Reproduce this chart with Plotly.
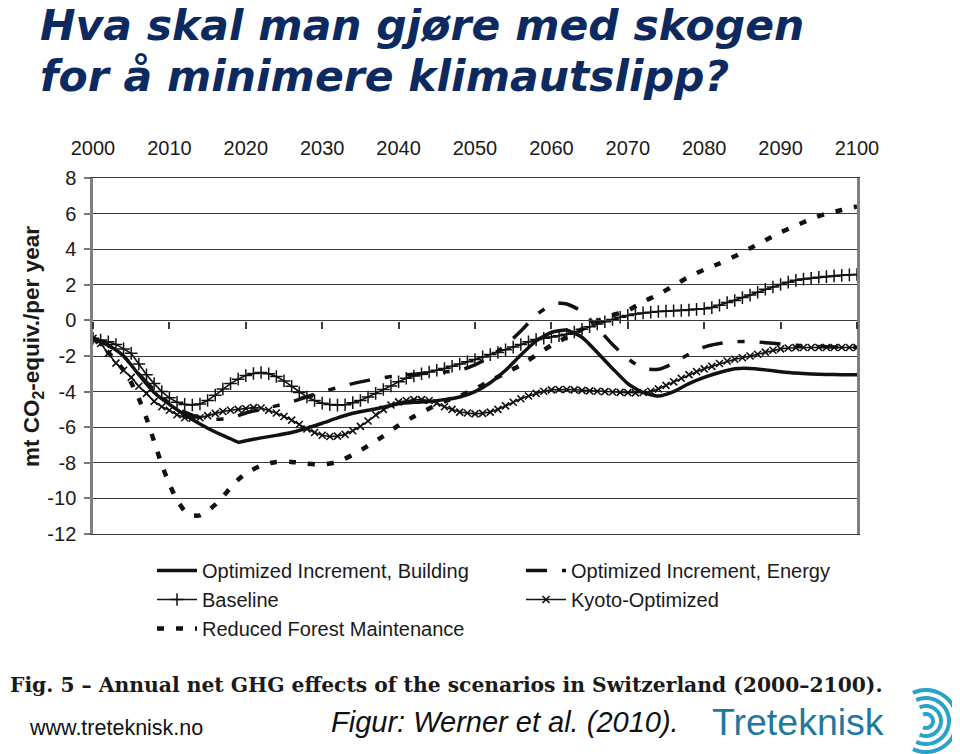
import plotly.graph_objects as go
import numpy as np

# ---------------- data ----------------
years = list(range(2000, 2101))

baseline = [-1.0, -1.1, -1.2, -1.35, -1.6, -1.85, -2.45, -3.05, -3.55, -4.0,
            -4.35, -4.6, -4.72, -4.75, -4.7, -4.5, -4.2, -3.85, -3.55, -3.3,
            -3.1, -2.98, -2.93, -3.0, -3.15, -3.4, -3.7, -4.05, -4.3, -4.5,
            -4.65, -4.73, -4.76, -4.74, -4.62, -4.5, -4.3, -4.1, -3.88, -3.68,
            -3.45, -3.25, -3.12, -3.0, -2.9, -2.8, -2.7, -2.58, -2.45, -2.33,
            -2.2, -2.05, -1.92, -1.8, -1.65, -1.5, -1.35, -1.2, -1.08, -1.0,
            -0.93, -0.86, -0.78, -0.65, -0.5, -0.35, -0.2, -0.08, 0.05, 0.18,
            0.28, 0.36, 0.42, 0.46, 0.5, 0.52, 0.54, 0.56, 0.58, 0.62,
            0.66, 0.72, 0.85, 1.0, 1.12, 1.28, 1.42, 1.58, 1.75, 1.88,
            2.02, 2.15, 2.25, 2.32, 2.37, 2.42, 2.46, 2.5, 2.53, 2.56, 2.58]

kyoto = [-1.0, -1.3, -1.85, -2.4, -2.8, -3.2, -3.7, -4.1, -4.55, -4.85,
         -5.05, -5.3, -5.47, -5.5, -5.47, -5.35, -5.22, -5.12, -5.05, -5.0,
         -4.95, -4.9, -4.92, -5.05, -5.2, -5.4, -5.6, -5.85, -6.1, -6.3,
         -6.45, -6.52, -6.5, -6.4, -6.2, -5.95, -5.65, -5.3, -5.0, -4.75,
         -4.58, -4.5, -4.45, -4.45, -4.5, -4.65, -4.85, -5.0, -5.15, -5.2,
         -5.25, -5.22, -5.15, -5.0, -4.8, -4.6, -4.4, -4.25, -4.1, -3.98,
         -3.9, -3.88, -3.88, -3.9, -3.93, -3.96, -3.98, -4.0, -4.02, -4.04,
         -4.06, -4.07, -4.05, -3.98, -3.85, -3.65, -3.45, -3.25, -3.05, -2.88,
         -2.72, -2.58, -2.42, -2.28, -2.18, -2.1, -2.0, -1.9, -1.78, -1.68,
         -1.6, -1.55, -1.53, -1.52, -1.52, -1.52, -1.52, -1.52, -1.52, -1.52, -1.52]

building_years = [2000, 2002, 2004, 2006, 2008, 2010, 2012, 2014, 2016, 2018, 2019,
                  2020, 2022, 2024, 2026, 2028, 2030, 2032, 2034, 2036, 2038,
                  2040, 2042, 2044, 2046, 2048, 2050, 2052, 2054, 2056, 2058,
                  2060, 2062, 2064, 2066, 2068, 2070, 2072, 2074, 2076, 2078,
                  2080, 2082, 2084, 2086, 2088, 2090, 2092, 2094, 2096, 2098, 2100]
building = [-1.0, -1.4, -2.0, -3.05, -4.05, -4.72, -5.3, -5.82, -6.27, -6.65, -6.84,
            -6.76, -6.6, -6.46, -6.3, -6.05, -5.78, -5.48, -5.22, -5.05, -4.88,
            -4.68, -4.6, -4.55, -4.45, -4.3, -4.0, -3.5, -2.8, -1.95, -1.15,
            -0.68, -0.55, -0.95, -1.8, -2.7, -3.55, -4.05, -4.25, -4.0, -3.55,
            -3.2, -2.93, -2.72, -2.7, -2.78, -2.88, -2.96, -3.01, -3.04, -3.05, -3.05]

energy_years = [2000, 2002, 2004, 2006, 2008, 2010, 2012, 2014, 2016, 2018,
                2020, 2022, 2024, 2026, 2028, 2030, 2032, 2034, 2036, 2038,
                2040, 2042, 2044, 2046, 2048, 2050, 2052, 2054, 2056, 2058,
                2060, 2061, 2062, 2064, 2066, 2068, 2070, 2072, 2074, 2076, 2078,
                2080, 2082, 2084, 2086, 2088, 2090, 2092, 2094, 2096, 2098, 2100]
energy = [-1.0, -1.4, -2.0, -3.0, -3.9, -4.65, -5.15, -5.45, -5.55, -5.5,
          -5.2, -5.0, -4.8, -4.58, -4.3, -4.0, -3.78, -3.55, -3.37, -3.22,
          -3.1, -3.02, -2.96, -2.9, -2.8, -2.5, -2.0, -1.4, -0.6, 0.3,
          0.88, 0.96, 0.92, 0.5, -0.4, -1.35, -2.15, -2.7, -2.75, -2.4, -1.9,
          -1.5, -1.3, -1.2, -1.18, -1.25, -1.33, -1.4, -1.45, -1.48, -1.5, -1.52]

reduced_years = [2000, 2002, 2004, 2005, 2006, 2007, 2008, 2009, 2010, 2011, 2012,
                 2013, 2014, 2015, 2016, 2017, 2018, 2019, 2020, 2022, 2024,
                 2026, 2028, 2030, 2032, 2034, 2036, 2038, 2040, 2042, 2044,
                 2046, 2048, 2050, 2052, 2054, 2056, 2058, 2060, 2062, 2064,
                 2066, 2068, 2070, 2072, 2074, 2076, 2078, 2080, 2082, 2084,
                 2086, 2088, 2090, 2092, 2094, 2096, 2098, 2100]
reduced = [-1.0, -1.8, -2.8, -3.5, -4.4, -5.5, -6.8, -8.1, -9.2, -10.1, -10.7,
           -10.95, -10.95, -10.7, -10.35, -9.9, -9.4, -8.95, -8.6, -8.15, -7.95,
           -7.95, -8.05, -8.1, -7.95, -7.55, -7.05, -6.5, -5.9, -5.4, -4.95,
           -4.55, -4.25, -3.85, -3.4, -2.95, -2.5, -1.95, -1.4, -0.95, -0.5,
           -0.05, 0.3, 0.55, 1.05, 1.45, 1.95, 2.45, 2.85, 3.2, 3.6,
           4.05, 4.5, 4.95, 5.32, 5.7, 6.0, 6.2, 6.4]

x_ticks = list(range(2000, 2101, 10))
y_ticks = list(range(-12, 9, 2))
y_ticktext = [str(v) for v in y_ticks]   # plain hyphen minus, as in the source

names = ["Optimized Increment, Building", "Optimized Increment, Energy",
         "Baseline", "Kyoto-Optimized", "Reduced Forest Maintenance"]

# ---------------- layout geometry (page pixels) ----------------
OFF = 8                      # default body margin of the html page
W, H = 960 - OFF, 754 - OFF  # figure size so the page is exactly 960x754
L, R, T, B = 93, 857, 178, 534   # plot area edges in page pixels


def xp(px):
    return (px - L) / (R - L)


def yp(py):
    return (B - py) / (B - T)


BLACK = "#111111"
fig = go.Figure()

fig.add_trace(go.Scatter(x=building_years, y=building, name=names[0], mode="lines",
                         line=dict(color=BLACK, width=3.5, shape="spline", smoothing=0.6)))
fig.add_trace(go.Scatter(x=energy_years, y=energy, name=names[1], mode="lines",
                         line=dict(color=BLACK, width=3.5, shape="spline", smoothing=0.6,
                                   dash="21px,15px,7px,15px")))
fig.add_trace(go.Scatter(x=years, y=baseline, name=names[2], mode="lines+markers",
                         line=dict(color=BLACK, width=1.6),
                         marker=dict(symbol="cross-thin", size=9,
                                     line=dict(color=BLACK, width=1.5))))
fig.add_trace(go.Scatter(x=years, y=kyoto, name=names[3], mode="lines+markers",
                         line=dict(color=BLACK, width=1.6),
                         marker=dict(symbol="x-thin", size=7,
                                     line=dict(color=BLACK, width=1.6))))
fig.add_trace(go.Scatter(x=reduced_years, y=reduced, name=names[4], mode="lines",
                         line=dict(color=BLACK, width=4.5, shape="spline", smoothing=0.6,
                                   dash="7px,12px")))
# helper trace so the x-axis drawn along y = 0 exists
fig.add_trace(go.Scatter(x=[2000], y=[None], xaxis="x2", yaxis="y", showlegend=False,
                         hoverinfo="skip", mode="lines"))

axis_font = dict(family="Liberation Sans, Arial, sans-serif", size=20, color="#1a1a1a")

fig.update_layout(
    width=W, height=H,
    margin=dict(l=L - OFF, r=960 - R, t=T - OFF, b=754 - B, pad=0),
    paper_bgcolor="white", plot_bgcolor="white",
    font=dict(family="Liberation Sans, Arial, sans-serif", color="#1a1a1a"),
    xaxis=dict(range=[2000, 2100], side="top", tickvals=x_ticks, ticks="",
               showgrid=False, zeroline=False, showline=True, mirror=True,
               linecolor="#3a3a3a", linewidth=1.2, tickfont=axis_font,
               ticklabelstandoff=14),
    xaxis2=dict(range=[2000, 2100], overlaying="x", anchor="free",
                position=(0 - (-12)) / 20, side="bottom",
                tickvals=x_ticks, ticks="outside", ticklen=7, tickwidth=1.5,
                tickcolor="#3a3a3a", showticklabels=False, showgrid=False,
                zeroline=False, showline=True, linecolor="#3a3a3a", linewidth=1.2),
    yaxis=dict(range=[-12, 8], tickvals=y_ticks, ticktext=y_ticktext,
               ticks="outside", ticklen=6, tickwidth=1.5, tickcolor="#777777",
               showgrid=True, gridcolor="#3a3a3a", gridwidth=1.2, zeroline=False,
               showline=True, mirror=True, linecolor="#808080", linewidth=2.5,
               tickfont=axis_font, ticklabelstandoff=4),
    legend=dict(orientation="h", x=xp(152), y=yp(551), xanchor="left", yanchor="top",
                font=dict(family="Liberation Sans, Arial, sans-serif", size=20,
                          color="#1a1a1a"),
                entrywidth=314, entrywidthmode="pixels", itemwidth=40,
                traceorder="normal", bgcolor="rgba(0,0,0,0)"),
    showlegend=True,
)

ann = []
# y-axis title
ann.append(dict(text="mt CO<sub>2</sub>-equiv./per year", x=xp(33), y=yp(347),
                xref="paper", yref="paper", showarrow=False, textangle=-90,
                xanchor="center", yanchor="middle",
                font=dict(family="Liberation Sans, Arial, sans-serif", size=22.5,
                          color="#1a1a1a", weight="bold")))
# slide title
title_font = dict(family="DejaVu Sans, sans-serif", size=42.5, color="#0d2a60",
                  weight="bold", style="italic")
ann.append(dict(text="Hva skal man gjøre med skogen", x=xp(38), y=yp(25),
                xref="paper", yref="paper", showarrow=False, xanchor="left",
                yanchor="middle", font=title_font))
ann.append(dict(text="for å minimere klimautslipp?", x=xp(38), y=yp(76),
                xref="paper", yref="paper", showarrow=False, xanchor="left",
                yanchor="middle", font=title_font))
# figure caption
ann.append(dict(text="Fig. 5 \u2013 Annual net GHG effects of the scenarios in Switzerland (2000\u20132100).",
                x=xp(8), y=yp(685), xref="paper", yref="paper", showarrow=False,
                xanchor="left", yanchor="middle",
                font=dict(family="DejaVu Serif, serif", size=20.3, color="#1a1a1a",
                          weight="bold")))
ann.append(dict(text="www.treteknisk.no", x=xp(27), y=yp(728), xref="paper", yref="paper",
                showarrow=False, xanchor="left", yanchor="middle",
                font=dict(family="Liberation Sans, Arial, sans-serif", size=21.5,
                          color="#111111")))
ann.append(dict(text="Figur: Werner et al. (2010).", x=xp(329), y=yp(722), xref="paper",
                yref="paper", showarrow=False, xanchor="left", yanchor="middle",
                font=dict(family="Liberation Sans, Arial, sans-serif", size=29,
                          color="#111111", style="italic")))
ann.append(dict(text="Treteknisk", x=xp(710), y=yp(722), xref="paper", yref="paper",
                showarrow=False, xanchor="left", yanchor="middle",
                font=dict(family="Liberation Sans, Arial, sans-serif", size=37.5,
                          color="#1f78a0")))
fig.update_layout(annotations=ann)

# logo: nested arcs opening to the left
shapes = []
cx, cy = 926, 721
for r in [7, 15, 23, 31]:
    ang = np.linspace(-115, 115, 40) * np.pi / 180
    pts = [(cx + r * np.cos(a), cy - r * np.sin(a)) for a in ang]
    path = "M " + " L ".join(f"{xp(px):.5f},{yp(py):.5f}" for px, py in pts)
    shapes.append(dict(type="path", path=path, xref="paper", yref="paper",
                       line=dict(color="#2aa3c8", width=4)))
fig.update_layout(shapes=shapes)

fig.write_html("out.html")
